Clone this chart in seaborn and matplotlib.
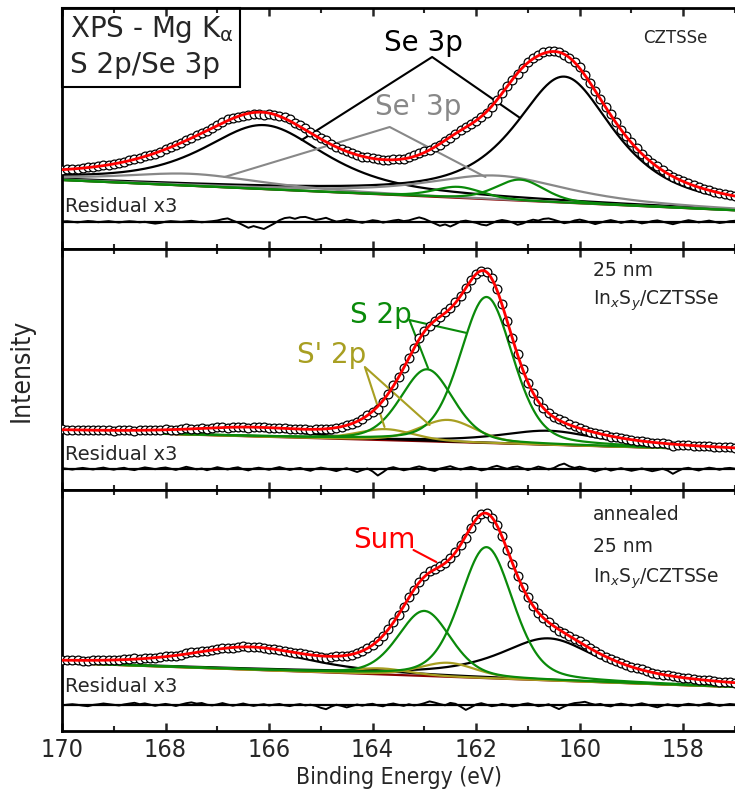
import numpy as np
import pandas as pd
import matplotlib
matplotlib.use("Agg")
import matplotlib.pyplot as plt
from matplotlib.patches import Rectangle
import seaborn as sns

# ---------------- data (intensity in arbitrary units) ----------------
energy = np.round(np.arange(170.0, 156.95, -0.1), 1)   # measured binding energies (eV)

# background (value at 170 eV, value at 157 eV)
bg_czts = [42, 11.7]
bg_inxsy = [38, 19]
bg_anneal = [42, 18]

# peak parameters: centres (eV), heights, FWHM (eV), Lorentz fraction
se3p_c_czts, se3p_h_czts = [166.1, 160.3], [64, 126]
se3p_w_czts, se3p_m_czts = [2.8, 2.3], [0.7, 0.8]
sep3p_c_czts, sep3p_h_czts = [167.5, 161.6], [12, 24]
sep3p_w_czts, sep3p_m_czts = [3.2, 3.2], [0.7, 0.7]
s2p_c_czts, s2p_h_czts = [162.35, 161.15], [11, 21]
s2p_w_czts, s2p_m_czts = [1.1, 1.1], [0.3, 0.3]

se3p_c_inxsy, se3p_h_inxsy = [166.4, 160.6], [7, 14]
se3p_w_inxsy, se3p_m_inxsy = [2.8, 2.3], [0.7, 0.8]
s2p_c_inxsy, s2p_h_inxsy = [162.95, 161.8], [72, 146]
s2p_w_inxsy, s2p_m_inxsy = [1.2, 1.2], [0.3, 0.3]
sp2p_c_inxsy, sp2p_h_inxsy = [163.75, 162.55], [11, 22]
sp2p_w_inxsy, sp2p_m_inxsy = [1.3, 1.3], [0.3, 0.3]

se3p_c_anneal, se3p_h_anneal = [166.4, 160.6], [20, 42]
se3p_w_anneal, se3p_m_anneal = [2.8, 2.3], [0.7, 0.8]
s2p_c_anneal, s2p_h_anneal = [163.0, 161.8], [65, 131]
s2p_w_anneal, s2p_m_anneal = [1.2, 1.2], [0.3, 0.3]
sp2p_c_anneal, sp2p_h_anneal = [163.85, 162.55], [6, 14]
sp2p_w_anneal, sp2p_m_anneal = [1.3, 1.3], [0.3, 0.3]

# residuals (x3 as displayed), 170.0 -> 157.0 eV in 0.1 eV steps
resid_czts = [
    0.5, 0.8, 0.2, -0.4, 0.3, 1.0, 0.6, -0.2, 0.4, 0.9,
    0.2, -0.5, 0.3, 0.8, 0.4, -0.3, 0.2, -0.8, -1.6, -0.9,
    0.3, 0.9, 0.5, 0.1, 0.7, 1.2, 0.4, -0.3, 0.2, 0.8,
    1.5, 2.8, 3.6, 1.4, -0.6, -3.2, -5.8, -4.1, -5.5, -7.0,
    -4.2, -1.5, 1.8, 3.9, 4.6, 3.2, 4.8, 5.1, 3.5, 2.0,
    3.0, 4.2, 2.1, 0.4, 1.2, 2.5, 1.6, 0.3, -0.8, 0.5,
    1.8, 1.1, -0.6, 0.4, 1.5, 2.2, 0.9, 1.6, 3.2, 4.6,
    3.1, 0.8, -1.5, -3.8, -2.4, -4.5, -2.2, 0.6, 1.4, 0.3,
    -0.8, -2.6, -3.4, -1.2, 0.9, 2.0, 1.1, -0.4, -2.8, -1.5,
    0.8, 2.3, 1.4, 3.1, 3.6, 2.2, 0.6, -1.2, -0.3, 1.5,
    2.4, 1.2, -0.5, -2.1, -0.6, 0.8, 1.9, 0.7, -0.9, 0.4,
    1.3, 0.2, -1.4, -0.5, 0.9, 1.6, 0.3, -1.1, -2.2, -0.8,
    0.6, 1.8, 0.9, -0.4, 0.5, 1.4, 0.2, -1.0, -0.3, 0.8, 1.2]
resid_inxsy = [
    0.8, 0.2, -0.6, 0.4, 1.1, 0.3, -0.5, 0.6, 1.4, 0.2,
    -0.7, 0.5, 1.2, -0.3, -1.1, 0.4, 1.6, 0.8, -0.2, 0.9,
    1.5, 0.3, -0.9, 0.6, 2.2, 1.0, -0.4, 0.5, -1.2, 0.3,
    1.8, 0.6, -0.5, 0.9, 1.7, -0.2, -1.4, 0.4, 1.3, 0.2,
    -0.8, 0.7, 1.9, 0.5, -1.0, 0.3, 1.1, -0.6, -1.8, 0.2,
    1.4, 0.4, -0.9, -2.1, -0.4, 0.8, -1.2, -3.0, -1.1, 0.5,
    -2.4, -6.5, -3.2, 0.6, 1.8, 0.2, -1.3, -0.2, 1.4, 2.6,
    1.2, -0.8, -2.0, 0.4, 1.6, 2.8, 1.0, -0.6, 0.9, 2.1,
    0.5, -1.4, -0.3, 1.8, 3.2, 1.6, 0.2, 1.9, 2.6, 0.7,
    -1.1, 0.6, 2.4, 1.2, -0.5, 1.0, 3.8, 5.4, 2.7, 1.1,
    2.3, 0.8, -0.9, -2.4, -0.8, 0.5, -1.6, -0.4, 0.9, -0.6,
    -1.8, -0.7, 0.6, -0.9, -2.2, -1.1, 0.3, -1.6, -4.8, -2.0,
    0.4, 1.2, -0.3, -1.5, 0.2, 1.3, 0.5, -0.8, 0.6, 1.1, 0.3]
resid_anneal = [
    -0.4, 0.3, 0.8, 0.2, -0.6, -1.2, 0.1, 0.7, 1.5, 0.9,
    0.2, -0.5, 0.6, 1.4, 2.2, 0.8, 1.6, 0.4, -0.8, 0.3,
    1.1, 0.2, -1.0, 0.5, 1.8, 2.6, 1.4, 2.0, 0.3, -0.4,
    0.6, 1.9, 0.5, -0.7, 0.4, 1.5, 0.2, -0.9, 0.1, 0.8,
    -0.5, 0.4, 1.0, -0.3, -1.1, 0.2, 0.9, -0.4, 0.3, -0.8,
    -2.8, -4.2, -1.6, 0.3, -0.9, -2.4, -1.0, 0.5, -0.7, 0.6,
    1.2, -0.4, -1.3, 0.6, 1.5, 0.2, -0.9, 0.8, -0.5, 0.4,
    1.8, 3.6, 2.4, 0.9, -0.3, 2.1, 1.2, -1.6, -4.9, -2.3,
    0.6, 1.8, 0.3, -1.2, -0.4, 1.1, 0.2, -1.5, -0.6, 0.9,
    1.6, 0.4, -1.2, -0.5, 0.8, -1.8, -4.1, -1.5, 0.6, 1.9,
    2.4, 3.2, 1.5, 0.3, 1.1, -0.6, -1.4, 0.5, 1.3, 0.4,
    -0.8, 0.6, 1.7, 0.4, -1.1, -2.3, -0.6, 0.8, -0.5, -1.4,
    0.3, 1.2, 0.5, -0.6, 0.9, 1.8, 0.4, -0.9, 0.2, 1.0, 0.5]

xticks = [170, 168, 166, 164, 162, 160, 158]

# ---------------- styling ----------------
sns.set_theme(style="ticks")
plt.rcParams["font.family"] = ["DejaVu Sans"]
plt.rcParams["mathtext.fontset"] = "dejavusans"

BLACK, GRAY, GREEN, OLIVE, RED, BGRED = "black", "#888888", "#0a8a0a", "#a89f22", "#ff0000", "#8b0000"


def pv(x, c, h, w, m):
    g = np.exp(-4 * np.log(2) * ((x - c) / w) ** 2)
    lz = 1.0 / (1.0 + 4 * ((x - c) / w) ** 2)
    return h * (m * lz + (1 - m) * g)


def background(x, bg):
    return bg[0] + (bg[1] - bg[0]) * (170.0 - x) / (170.0 - 157.0)


panels = [
    dict(bg=bg_czts, resid=resid_czts, groups=[
        (se3p_c_czts, se3p_h_czts, se3p_w_czts, se3p_m_czts, BLACK),
        (sep3p_c_czts, sep3p_h_czts, sep3p_w_czts, sep3p_m_czts, GRAY),
        (s2p_c_czts, s2p_h_czts, s2p_w_czts, s2p_m_czts, GREEN)]),
    dict(bg=bg_inxsy, resid=resid_inxsy, groups=[
        (se3p_c_inxsy, se3p_h_inxsy, se3p_w_inxsy, se3p_m_inxsy, BLACK),
        (sp2p_c_inxsy, sp2p_h_inxsy, sp2p_w_inxsy, sp2p_m_inxsy, OLIVE),
        (s2p_c_inxsy, s2p_h_inxsy, s2p_w_inxsy, s2p_m_inxsy, GREEN)]),
    dict(bg=bg_anneal, resid=resid_anneal, groups=[
        (se3p_c_anneal, se3p_h_anneal, se3p_w_anneal, se3p_m_anneal, BLACK),
        (sp2p_c_anneal, sp2p_h_anneal, sp2p_w_anneal, sp2p_m_anneal, OLIVE),
        (s2p_c_anneal, s2p_h_anneal, s2p_w_anneal, s2p_m_anneal, GREEN)]),
]

W, H = 735, 797
fig = plt.figure(figsize=(W / 100, H / 100), dpi=100)
left_px = 62
tops = [8, 249, 490]
bots = [249, 490, 731]
bases = [222, 469, 705]
xfine = np.linspace(170.0, 157.0, 651)

axes = []
for i, p in enumerate(panels):
    ax = fig.add_axes([left_px / W, 1 - bots[i] / H, (W - left_px) / W, (bots[i] - tops[i]) / H])
    axes.append(ax)
    bgf = background(xfine, p["bg"])
    bgd = background(energy, p["bg"])
    total_f = bgf.copy()
    total_d = bgd.copy()
    sns.lineplot(x=xfine, y=bgf, color=BGRED, lw=1.6, ax=ax, sort=False)
    for (cs, hs, ws, ms, col) in p["groups"]:
        for c, h, w, m in zip(cs, hs, ws, ms):
            comp = pv(xfine, c, h, w, m)
            total_f += comp
            total_d += pv(energy, c, h, w, m)
            sns.lineplot(x=xfine, y=bgf + comp, color=col, lw=1.6, ax=ax, sort=False)
    res = np.array(p["resid"])
    data = total_d + res / 3.0
    sns.scatterplot(x=energy, y=data, marker="o", s=40, facecolor="white",
                    edgecolor="black", linewidth=0.9, ax=ax, zorder=4)
    sns.lineplot(x=xfine, y=total_f, color=RED, lw=2.0, ax=ax, sort=False, zorder=5)
    # residual
    ax.axhline(0, color="black", lw=1.6)
    sns.lineplot(x=energy, y=res, color="black", lw=1.4, ax=ax, sort=False)
    ax.set_xlim(170, 170 - (W - left_px) / 52.33)
    ax.set_ylim(-(bots[i] - bases[i]), bases[i] - tops[i])
    ax.set_yticks([])
    ax.set_xticks(xticks)
    ax.set_xticks(np.arange(157, 171, 1), minor=True)
    ax.tick_params(axis="x", which="major", direction="in", top=True, bottom=True,
                   length=6, width=1.8)
    ax.tick_params(axis="x", which="minor", direction="in", top=True, bottom=True,
                   length=3.5, width=1.5)
    for s in ["left", "top", "bottom"]:
        ax.spines[s].set_linewidth(2.0)
        ax.spines[s].set_color("black")
    ax.spines["right"].set_visible(False)
    ax.set_xlabel("")
    ax.set_ylabel("")
    ax.text(169.94, bases[i] - [207, 455, 686][i], "Residual x3", fontsize=14,
            ha="left", va="center")
    if i < 2:
        ax.tick_params(axis="x", labelbottom=False)

ax1, ax2, ax3 = axes

# panel 1 annotations
ax1.add_patch(Rectangle((0, (249 - 87) / 241), (240 - 62) / 673, 1 - (249 - 87) / 241,
                        transform=ax1.transAxes, fill=False, lw=1.5, ec="black", clip_on=False))
ax1.text(8 / 673, 1 - (29 - 8) / 241, r"XPS - Mg K$_{\mathrm{\alpha}}$", transform=ax1.transAxes,
         fontsize=20, ha="left", va="center")
ax1.text(8 / 673, 1 - (65 - 8) / 241, "S 2p/Se 3p", transform=ax1.transAxes,
         fontsize=20, ha="left", va="center")
ax1.text(158.78, 184, "CZTSSe", fontsize=12, ha="left", va="center")
ax1.text(163.02, 179, "Se 3p", fontsize=20, ha="center", va="center", color=BLACK)
ax1.plot([165.37, 162.85, 161.15], [82, 165, 104], color=BLACK, lw=1.5)
ax1.text(163.12, 115, "Se' 3p", fontsize=20, ha="center", va="center", color=GRAY)
ax1.plot([166.86, 163.67, 161.82], [45, 95, 45], color=GRAY, lw=1.5)

# panel 2 annotations
ax2.text(159.75, 199, "25 nm", fontsize=13.5, ha="left", va="center")
ax2.text(159.75, 168, r"In$_x$S$_y$/CZTSSe", fontsize=13.5, ha="left", va="center")
ax2.text(163.85, 154, "S 2p", fontsize=20, ha="center", va="center", color=GREEN)
ax2.plot([162.18, 163.29, 162.93], [136, 149, 101], color=GREEN, lw=1.5)
ax2.text(164.8, 114, "S' 2p", fontsize=20, ha="center", va="center", color=OLIVE)
ax2.plot([163.77, 164.15, 162.9], [42, 102, 44], color=OLIVE, lw=1.5)

# panel 3 annotations
ax3.text(159.75, 190, "annealed", fontsize=13.5, ha="left", va="center")
ax3.text(159.75, 158, "25 nm", fontsize=13.5, ha="left", va="center")
ax3.text(159.75, 126, r"In$_x$S$_y$/CZTSSe", fontsize=13.5, ha="left", va="center")
ax3.text(163.77, 165, "Sum", fontsize=20, ha="center", va="center", color=RED)
ax3.plot([163.21, 162.77], [155, 143], color=RED, lw=1.5)

ax3.tick_params(axis="x", labelsize=18, pad=5)
for lab in ax3.get_xticklabels():
    lab.set_fontstretch("condensed")
ax3.set_xlabel("Binding Energy (eV)", fontsize=16.5, fontstretch="condensed", labelpad=3)
fig.text(22 / W, 1 - 370 / H, "Intensity", rotation=90, fontsize=19,
         fontstretch="condensed", ha="center", va="center")

fig.savefig("out.png", dpi=100)
